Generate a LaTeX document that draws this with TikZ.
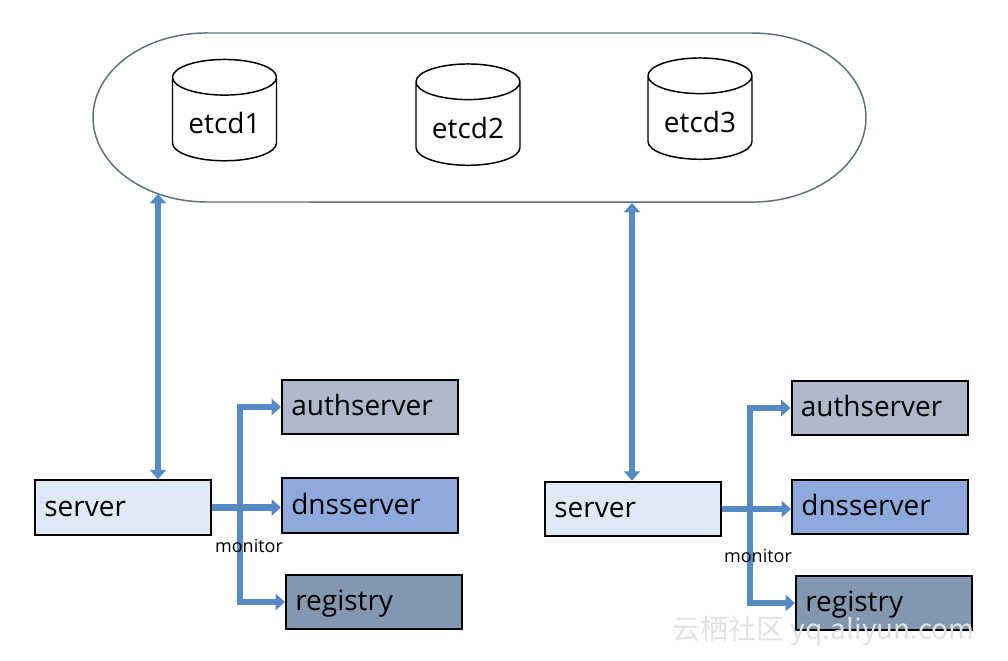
\documentclass[tikz,border=0pt]{standalone}
\usepackage{fontspec}
\setmainfont{Open Sans}
\newfontfamily\cjkfont{Noto Sans CJK SC}
\usepackage{xcolor}
\usepackage{tikz}
\usetikzlibrary{arrows.meta,shapes.geometric}

\definecolor{ringline}{RGB}{88,112,132}
\definecolor{flowblue}{RGB}{86,138,196}
\definecolor{srvfill}{RGB}{222,233,246}
\definecolor{authfill}{RGB}{173,185,202}
\definecolor{dnsfill}{RGB}{142,169,219}
\definecolor{regfill}{RGB}{132,151,176}
\definecolor{wmgray}{RGB}{226,226,226}

\begin{document}
\begin{tikzpicture}[
    x=0.75pt, y=0.75pt,
    % etcd members as upright cylinders
    dbnode/.style={
        cylinder, shape border rotate=90, draw, line width=1.1pt,
        aspect=0.44, minimum width=78pt, minimum height=76pt,
        font=\fontsize{21}{24}\selectfont
    },
    % boxes with left-aligned labels
    srvbox/.style={
        draw, line width=1.5pt, minimum height=41pt,
        text width=118pt, inner xsep=7pt, align=left,
        text height=16pt, text depth=3pt,
        font=\fontsize{21}{24}\selectfont
    },
    flow/.style={line width=4.6pt, draw=flowblue, -{Triangle[length=7pt,width=12pt]}},
    link/.style={flow, {Triangle[length=7pt,width=12pt]}-{Triangle[length=7pt,width=12pt]}},
    mon/.style={font=\fontsize{13.5}{15}\selectfont},
]
    \useasboundingbox (0,0) rectangle (1008,-661);

    % etcd cluster ring
    \draw[ringline, line width=1.1pt]
        (207,-33) -- (752,-33)
        arc[start angle=90, end angle=-90, x radius=85.5pt, y radius=63.4pt]
        -- (207,-202)
        arc[start angle=270, end angle=90, x radius=85.5pt, y radius=63.4pt]
        -- cycle;

    \node[dbnode] (etcd1) at (224.5,-123) {etcd1};
    \node[dbnode] (etcd2) at (468,-127.5) {etcd2};
    \node[dbnode] (etcd3) at (700,-121.5) {etcd3};

    % where the links meet the ring
    \coordinate (ringL) at (158,-194);
    \coordinate (ringR) at (632,-203);

    % left group
    \node[srvbox, fill=srvfill] (srvL) at (123,-507.5) {server};
    \node[srvbox, fill=authfill] (authL) at (370,-407) {authserver};
    \node[srvbox, fill=dnsfill] (dnsL) at (370,-505.5) {dnsserver};
    \node[srvbox, fill=regfill] (regL) at (374,-602) {registry};
    \coordinate (trunkL) at (240,-505);

    % right group
    \node[srvbox, fill=srvfill] (srvR) at (633,-509) {server};
    \node[srvbox, fill=authfill] (authR) at (879.5,-408) {authserver};
    \node[srvbox, fill=dnsfill] (dnsR) at (880,-507) {dnsserver};
    \node[srvbox, fill=regfill] (regR) at (884,-603) {registry};
    \coordinate (trunkR) at (750,-507);

    % ring <-> servers
    \draw[link] (ringL) -- (ringL |- srvL.north);
    \draw[link] (ringR) -- (ringR |- srvR.north);

    % monitor arrows
    \foreach \s in {L,R} {
        \draw[flow] (srv\s.east) -- (srv\s.east -| dns\s.west);
        \draw[link] (auth\s.west) -| (trunk\s) |- (reg\s.west);
    }
    \node[mon] (monL) at (249,-546) {monitor};
    \node[mon] (monR) at (758,-556) {monitor};

    % watermark
    \node[anchor=west, text=wmgray, font=\cjkfont\fontsize{21}{24}\selectfont]
        (mark) at (668,-631) {云栖社区 yq.aliyun.com};
\end{tikzpicture}
\end{document}
